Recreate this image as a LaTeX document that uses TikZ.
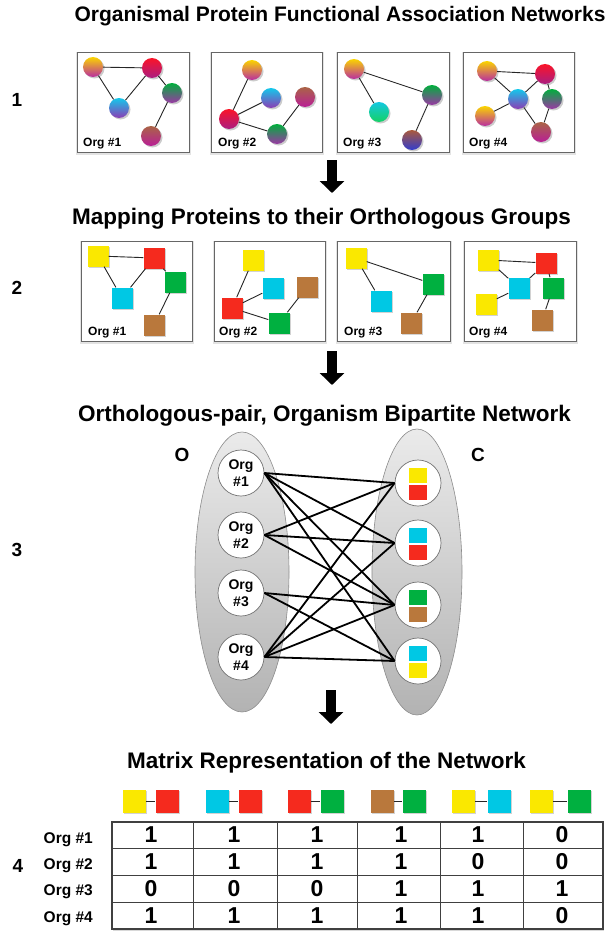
\documentclass[tikz,border=0pt]{standalone}
\usepackage{fontspec}
\setmainfont{Liberation Sans}
\usetikzlibrary{shadows,shapes.geometric,arrows.meta}

% flat colours of the orthologous-group squares
\definecolor{sqyellow}{RGB}{250,232,0}
\definecolor{sqred}{RGB}{245,42,30}
\definecolor{sqgreen}{RGB}{0,176,64}
\definecolor{sqcyan}{RGB}{0,200,228}
\definecolor{sqbrown}{RGB}{185,120,60}
% protein balls: top and bottom colours of the vertical gradient
\definecolor{byelT}{RGB}{250,212,0}    \definecolor{byelB}{RGB}{185,45,160}
\definecolor{bredT}{RGB}{250,20,40}    \definecolor{bredB}{RGB}{170,30,130}
\definecolor{bgrnT}{RGB}{0,175,60}     \definecolor{bgrnB}{RGB}{155,55,165}
\definecolor{bcynT}{RGB}{20,200,235}   \definecolor{bcynB}{RGB}{140,60,180}
\definecolor{bbrnT}{RGB}{170,100,70}   \definecolor{bbrnB}{RGB}{185,30,150}
\definecolor{btealT}{RGB}{20,200,225}  \definecolor{btealB}{RGB}{20,210,100}
\definecolor{bblueT}{RGB}{170,90,60}   \definecolor{bblueB}{RGB}{50,60,205}

\tikzset{
  title/.style={font=\fontsize{22.5}{26}\selectfont\bfseries, anchor=base, inner sep=0},
  stepnum/.style={font=\fontsize{19}{22}\selectfont\bfseries, inner sep=0},
  panel/.style={draw=black!60, line width=0.9pt, fill=white, inner sep=0,
    minimum height=100,
    drop shadow={opacity=.22, shadow xshift=0.5pt, shadow yshift=-1.5pt, shadow scale=1.03}},
  ball/.style 2 args={circle, minimum size=20, inner sep=0, top color=#1, bottom color=#2,
    drop shadow={opacity=.4, shadow xshift=1.5pt, shadow yshift=-1.5pt}},
  sq/.style={minimum size=21, inner sep=0, fill=#1,
    drop shadow={opacity=.35, shadow xshift=1.5pt, shadow yshift=-1.5pt}},
  plabel/.style={font=\fontsize{12}{14}\selectfont\bfseries, fill=white, inner sep=1pt, anchor=base west},
  link/.style={draw=black!85, line width=0.9pt},
  groupell/.style={ellipse, draw=black!45, line width=0.6pt, top color=black!8,
    bottom color=black!30, inner sep=0},
  orgnode/.style={circle, draw=black!55, line width=0.7pt, fill=white, minimum size=46,
    inner sep=0, align=center, font=\fontsize{14}{16.5}\selectfont\bfseries},
  cnode/.style={circle, draw=black!55, line width=0.7pt, fill=white, minimum size=46, inner sep=0},
  csq/.style={minimum width=18, minimum height=15, inner sep=0, fill=#1},
  bipedge/.style={draw=black, line width=1.8pt},
  setlabel/.style={font=\fontsize{19}{22}\selectfont\bfseries, inner sep=0},
  blockarrow/.style={draw=black, line width=10pt, -{Triangle[length=12pt,width=24pt]}},
  hsq/.style={minimum size=23, inner sep=0, fill=#1,
    drop shadow={opacity=.35, shadow xshift=1.5pt, shadow yshift=-1.5pt}},
  hlink/.style={draw=black!85, line width=1pt},
  rowlab/.style={font=\fontsize{15.5}{18}\selectfont\bfseries, anchor=base east, inner sep=0},
  cellnum/.style={font=\fontsize{23}{26}\selectfont\bfseries, inner sep=0},
  tablebox/.style={draw=black!75, line width=1.2pt, fill=white, inner sep=0,
    drop shadow={opacity=.3, shadow xshift=1pt, shadow yshift=-2pt}},
  gridline/.style={draw=black!75, line width=1pt},
}

\begin{document}
\begin{tikzpicture}[x=1pt,y=-1pt]
\useasboundingbox (0,0) rectangle (613,934);
\fill[white] (0,0) rectangle (613,934);

% ---------- section titles and step numbers ----------
\node[title, font=\fontsize{21}{25}\selectfont\bfseries] (t1) at (340,21.5)
  {Organismal Protein Functional Association Networks};
\node[title] (t2) at (321.5,224.5) {Mapping Proteins to their Orthologous Groups};
\node[title] (t3) at (324.5,421.5) {Orthologous-pair, Organism Bipartite Network};
\node[title] (t4) at (326.5,768) {Matrix Representation of the Network};

\node[stepnum] (s1) at (17,100) {1};
\node[stepnum] (s2) at (17,288) {2};
\node[stepnum] (s3) at (17,550) {3};
\node[stepnum] (s4) at (18,866) {4};

% ---------- step 1: functional association networks ----------
\node[panel, minimum width=112] (pa1) at (133,102) {};
\node[panel, minimum width=111] (pa2) at (266.5,102) {};
\node[panel, minimum width=112] (pa3) at (393,102) {};
\node[panel, minimum width=111] (pa4) at (518.5,102) {};

% Org #1
\node[ball={byelT}{byelB}] (a1y) at (93,67) {};
\node[ball={bredT}{bredB}] (a1r) at (152,68) {};
\node[ball={bgrnT}{bgrnB}] (a1g) at (172,93) {};
\node[ball={bcynT}{bcynB}] (a1c) at (119,108) {};
\node[ball={bbrnT}{bbrnB}] (a1b) at (151,136) {};
\draw[link] (a1y) -- (a1r);
\draw[link] (a1y) -- (a1c);
\draw[link] (a1c) -- (a1r);
\draw[link] (a1r) -- (a1g);
\draw[link] (a1g) -- (a1b);
% Org #2
\node[ball={byelT}{byelB}] (a2y) at (252,70) {};
\node[ball={bcynT}{bcynB}] (a2c) at (271,98) {};
\node[ball={bbrnT}{bbrnB}] (a2b) at (305,97) {};
\node[ball={bredT}{bredB}] (a2r) at (229,119) {};
\node[ball={bgrnT}{bgrnB}] (a2g) at (277,134) {};
\draw[link] (a2y) -- (a2r);
\draw[link] (a2r) -- (a2c);
\draw[link] (a2r) -- (a2g);
\draw[link] (a2g) -- (a2b);
% Org #3
\node[ball={byelT}{byelB}] (a3y) at (354,69) {};
\node[ball={bgrnT}{bgrnB}] (a3g) at (432,95) {};
\node[ball={btealT}{btealB}] (a3t) at (379,112) {};
\node[ball={bblueT}{bblueB}] (a3u) at (412,140) {};
\draw[link] (a3y) -- (a3g);
\draw[link] (a3y) -- (a3t);
\draw[link] (a3g) -- (a3u);
% Org #4
\node[ball={byelT}{byelB}] (a4y) at (487,71) {};
\node[ball={bredT}{bredB}] (a4r) at (545,74) {};
\node[ball={bcynT}{bcynB}] (a4c) at (518,99) {};
\node[ball={bgrnT}{bgrnB}] (a4g) at (552,99) {};
\node[ball={byelT}{byelB}] (a4w) at (485,116) {};
\node[ball={bbrnT}{bbrnB}] (a4b) at (541,132) {};
\draw[link] (a4y) -- (a4r);
\draw[link] (a4y) -- (a4c);
\draw[link] (a4c) -- (a4r);
\draw[link] (a4r) -- (a4g);
\draw[link] (a4c) -- (a4w);
\draw[link] (a4c) -- (a4b);
\draw[link] (a4g) -- (a4b);

\node[plabel] (la1) at (82,146.5) {Org \#1};
\node[plabel] (la2) at (217,146.5) {Org \#2};
\node[plabel] (la3) at (342,146.5) {Org \#3};
\node[plabel] (la4) at (468,146.5) {Org \#4};

% ---------- step 2: orthologous groups ----------
\node[panel, minimum width=111] (pb1) at (136.5,291) {};
\node[panel, minimum width=111] (pb2) at (269.5,291) {};
\node[panel, minimum width=113] (pb3) at (393.5,291) {};
\node[panel, minimum width=112] (pb4) at (520,291) {};

% Org #1
\node[sq=sqyellow] (b1y) at (98,256) {};
\node[sq=sqred]    (b1r) at (154,258) {};
\node[sq=sqgreen]  (b1g) at (175,282) {};
\node[sq=sqcyan]   (b1c) at (122,298) {};
\node[sq=sqbrown]  (b1b) at (154,325) {};
\draw[link] (b1y) -- (b1r);
\draw[link] (b1y) -- (b1c);
\draw[link] (b1c) -- (b1r);
\draw[link] (b1r) -- (b1g);
\draw[link] (b1g) -- (b1b);
% Org #2
\node[sq=sqyellow] (b2y) at (253,260) {};
\node[sq=sqcyan]   (b2c) at (273,288) {};
\node[sq=sqbrown]  (b2b) at (307,287) {};
\node[sq=sqred]    (b2r) at (232,308) {};
\node[sq=sqgreen]  (b2g) at (279,323) {};
\draw[link] (b2y) -- (b2r);
\draw[link] (b2r) -- (b2c);
\draw[link] (b2r) -- (b2g);
\draw[link] (b2g) -- (b2b);
% Org #3
\node[sq=sqyellow] (b3y) at (356,258) {};
\node[sq=sqgreen]  (b3g) at (433,284) {};
\node[sq=sqcyan]   (b3c) at (381,301) {};
\node[sq=sqbrown]  (b3b) at (411,323) {};
\draw[link] (b3y) -- (b3g);
\draw[link] (b3y) -- (b3c);
\draw[link] (b3g) -- (b3b);
% Org #4
\node[sq=sqyellow] (b4y) at (488,260) {};
\node[sq=sqred]    (b4r) at (546,263) {};
\node[sq=sqcyan]   (b4c) at (519,288) {};
\node[sq=sqgreen]  (b4g) at (553,288) {};
\node[sq=sqyellow] (b4w) at (486,304) {};
\node[sq=sqbrown]  (b4b) at (542,320) {};
\draw[link] (b4y) -- (b4r);
\draw[link] (b4y) -- (b4c);
\draw[link] (b4c) -- (b4r);
\draw[link] (b4r) -- (b4g);
\draw[link] (b4c) -- (b4w);
\draw[link] (b4g) -- (b4b);

\node[plabel] (lb1) at (87,335.5) {Org \#1};
\node[plabel] (lb2) at (218,335.5) {Org \#2};
\node[plabel] (lb3) at (343,335.5) {Org \#3};
\node[plabel] (lb4) at (468,335.5) {Org \#4};

% ---------- step 3: bipartite network ----------
\node[groupell, minimum width=94, minimum height=280] (setO) at (242,572) {};
\node[groupell, minimum width=90, minimum height=286] (setC) at (417,572) {};
\node[setlabel] (labO) at (182,455) {O};
\node[setlabel] (labC) at (478,455) {C};

\node[orgnode] (o1) at (241,473) {Org\\\#1};
\node[orgnode] (o2) at (241,535) {Org\\\#2};
\node[orgnode] (o3) at (241,593) {Org\\\#3};
\node[orgnode] (o4) at (241,657) {Org\\\#4};

\node[cnode] (c1) at (418,483) {};
\node[cnode] (c2) at (418,543) {};
\node[cnode] (c3) at (418,605) {};
\node[cnode] (c4) at (418,661) {};
\node[csq=sqyellow] (c1a) at (418,475) {};
\node[csq=sqred]    (c1b) at (418,492) {};
\node[csq=sqcyan]   (c2a) at (418,535) {};
\node[csq=sqred]    (c2b) at (418,552) {};
\node[csq=sqgreen]  (c3a) at (418,597) {};
\node[csq=sqbrown]  (c3b) at (418,614) {};
\node[csq=sqcyan]   (c4a) at (418,653) {};
\node[csq=sqyellow] (c4b) at (418,670) {};

\foreach \o/\c in {o1/c1,o1/c2,o1/c3,o1/c4,o2/c1,o2/c2,o2/c3,o3/c3,o3/c4,o4/c1,o4/c2,o4/c3,o4/c4}
  \draw[bipedge] (\o.east) -- (\c.west);

% ---------- arrows between the steps ----------
\coordinate (ar1s) at (332,160); \coordinate (ar1e) at (332,193);
\coordinate (ar2s) at (332,351); \coordinate (ar2e) at (332,385);
\coordinate (ar3s) at (331,690); \coordinate (ar3e) at (331,724);
\draw[blockarrow] (ar1s) -- (ar1e);
\draw[blockarrow] (ar2s) -- (ar2e);
\draw[blockarrow] (ar3s) -- (ar3e);

% ---------- step 4: matrix ----------
\node[hsq=sqyellow] (h1a) at (134,801) {};
\node[hsq=sqred]    (h1b) at (167,801) {};
\node[hsq=sqcyan]   (h2a) at (217,801) {};
\node[hsq=sqred]    (h2b) at (250,801) {};
\node[hsq=sqred]    (h3a) at (299,801) {};
\node[hsq=sqgreen]  (h3b) at (332,801) {};
\node[hsq=sqbrown]  (h4a) at (382,801) {};
\node[hsq=sqgreen]  (h4b) at (414,801) {};
\node[hsq=sqyellow] (h5a) at (463,801) {};
\node[hsq=sqcyan]   (h5b) at (499,801) {};
\node[hsq=sqyellow] (h6a) at (541,801) {};
\node[hsq=sqgreen]  (h6b) at (579,801) {};
\foreach \k in {1,...,6}
  \draw[hlink] (h\k a) -- (h\k b);

\node[tablebox, minimum width=491, minimum height=107] (tbl) at (357.5,875.5) {};
\foreach \gx in {193,277,357,440,523}
  \draw[gridline] (\gx,822) -- (\gx,929);
\foreach \gy in {848,875,902}
  \draw[gridline] (112,\gy) -- (603,\gy);

\foreach \r/\yc/\va/\vb/\vc/\vd/\ve/\vf in
  {1/835/1/1/1/1/1/0, 2/861.5/1/1/1/1/0/0, 3/888.5/0/0/0/1/1/1, 4/915.5/1/1/1/1/1/0}
  \foreach \v/\xc/\k in {\va/151/1, \vb/234/2, \vc/317/3, \vd/401/4, \ve/478/5, \vf/562/6}
    \node[cellnum] (m\r\k) at (\xc,\yc) {\v};

\node[rowlab] (r1) at (93,843) {Org \#1};
\node[rowlab] (r2) at (93,869) {Org \#2};
\node[rowlab] (r3) at (93,895) {Org \#3};
\node[rowlab] (r4) at (93,922) {Org \#4};
\end{tikzpicture}
\end{document}
